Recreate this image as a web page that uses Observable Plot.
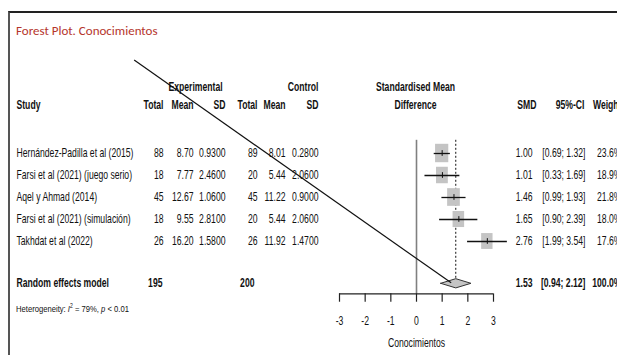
<!DOCTYPE html>
<html><head><meta charset="utf-8">
<script src="https://cdn.jsdelivr.net/npm/d3@7"></script>
<script src="https://cdn.jsdelivr.net/npm/@observablehq/plot@0.6"></script>
<style>
html,body{margin:0;padding:0;background:#fff;overflow:hidden;width:617px;height:355px}
#wrap{position:relative;width:617px;height:355px;overflow:hidden}
#frame{position:absolute;left:8px;top:11px;width:700px;height:400px;border-top:2px solid #222;border-left:2px solid #555;box-sizing:border-box}
#title{position:absolute;left:16px;top:23px;font-family:Carlito,Lato,sans-serif;font-size:13px;color:#b5352b;white-space:nowrap}
#het{position:absolute;left:16px;top:303px;font-family:"Liberation Sans",Arial,sans-serif;font-size:9.8px;color:#111;white-space:nowrap;transform:scaleX(0.78);transform-origin:0 0}
#het sup{font-size:6.5px;vertical-align:4px;line-height:0}
#chart{position:absolute;left:0;top:0}
</style></head>
<body><div id="wrap"><div id="frame"></div><div id="title"></div><div id="chart"></div><div id="het"></div></div>
<script>
// ---- data ----
const titleText = "Forest Plot. Conocimientos";
const studies = ["Hernández-Padilla et al (2015)", "Farsi et al (2021) (juego serio)", "Aqel y Ahmad (2014)", "Farsi et al (2021) (simulación)", "Takhdat et al (2022)"];
const expTotal = [88, 18, 45, 18, 26];
const expMean = [8.70, 7.77, 12.67, 9.55, 16.20];
const expSD = [0.93, 2.46, 1.06, 2.81, 1.58];
const ctlTotal = [89, 20, 45, 20, 26];
const ctlMean = [8.01, 5.44, 11.22, 5.44, 11.92];
const ctlSD = [0.28, 2.06, 0.90, 2.06, 1.47];
const smd = [1.00, 1.01, 1.46, 1.65, 2.76];
const ciLower = [0.69, 0.33, 0.99, 0.90, 1.99];
const ciUpper = [1.32, 1.69, 1.93, 2.39, 3.54];
const weight = [23.6, 18.9, 21.8, 18.0, 17.6];
const summaryLabel = "Random effects model";
const summaryExpTotal = 195;
const summaryCtlTotal = 200;
const summarySMD = 1.53;
const summaryLower = 0.94;
const summaryUpper = 2.12;
const summaryWeight = 100.0;
const hetI2 = 79;
const hetP = "< 0.01";
const xTicks = [-3, -2, -1, 0, 1, 2, 3];
const xLabel = "Conocimientos";
const headerTop = ["Experimental", "Control", "Standardised Mean"];
const headerBottom = ["Study", "Total", "Mean", "SD", "Total", "Mean", "SD", "Difference", "SMD", "95%-CI", "Weight"];
// hand-drawn annotation line (in SMD units / row units)
const annotation = [{x1: -11.0, y1: -3.25, x2: 1.35, y2: 6.88}];

// ---- layout ----
const W = 617, H = 355;
const xs = d3.scaleLinear([-3, 3], [339, 493]);
const px = p => xs.invert(p);
const FONT = "'Liberation Sans',Arial,sans-serif";
const FS = 12;
const SQUASH = 0.72;
const rowTop = -2, rowHead = -1.2, rowSum = 6.9, axisRow = 7.38, tickLabRow = 8.6, axisLabRow = 9.6, refTop = 0.4;

document.getElementById("title").textContent = titleText;
document.getElementById("het").innerHTML = `Heterogeneity: <i>I</i><sup>2</sup> = ${hetI2}%, <i>p</i> ${hetP.replace("<","&lt;")}`;

const rows = studies.map((s, i) => ({
  study: s, row: i + 1, eT: expTotal[i], eM: expMean[i], eS: expSD[i],
  cT: ctlTotal[i], cM: ctlMean[i], cS: ctlSD[i],
  smd: smd[i], lo: ciLower[i], hi: ciUpper[i], w: weight[i]
}));

const cols = [
  {p: 16, a: "start", f: d => d.study},
  {p: 163, a: "end", f: d => String(d.eT)},
  {p: 193, a: "end", f: d => d.eM.toFixed(2)},
  {p: 225, a: "end", f: d => d.eS.toFixed(4)},
  {p: 257, a: "end", f: d => String(d.cT)},
  {p: 285, a: "end", f: d => d.cM.toFixed(2)},
  {p: 318, a: "end", f: d => d.cS.toFixed(4)},
  {p: 532, a: "end", f: d => d.smd.toFixed(2)},
  {p: 585, a: "end", f: d => `[${d.lo.toFixed(2)}; ${d.hi.toFixed(2)}]`},
  {p: 621, a: "end", f: d => d.w.toFixed(1) + "%"}
];

const tableMarks = cols.map(c => Plot.text(rows, {
  x: () => px(c.p), y: "row", text: c.f, textAnchor: c.a, fontSize: FS, fill: "#111"
}));

const headPos = [
  {p: 195, a: "middle", r: rowTop}, {p: 318, a: "end", r: rowTop}, {p: 415, a: "middle", r: rowTop}
];
const headPos2 = [
  {p: 16, a: "start"}, {p: 163, a: "end"}, {p: 193, a: "end"}, {p: 225, a: "end"}, {p: 257, a: "end"},
  {p: 285, a: "end"}, {p: 318, a: "end"}, {p: 415, a: "middle"}, {p: 536, a: "end"}, {p: 584, a: "end"}, {p: 621, a: "end"}
];
const headerItems = headerTop.map((t, i) => ({t, ...headPos[i]}))
  .concat(headerBottom.map((t, i) => ({t, r: rowHead, ...headPos2[i]})));
const headerMarks = ["start", "middle", "end"].map(a => Plot.text(headerItems.filter(d => d.a === a), {
  x: d => px(d.p), y: "r", text: "t", textAnchor: a, fontSize: FS, fontWeight: "bold", fill: "#111"
}));

const sumItems = [
  {t: summaryLabel, p: 16, a: "start"},
  {t: String(summaryExpTotal), p: 162, a: "end"},
  {t: String(summaryCtlTotal), p: 254, a: "end"},
  {t: summarySMD.toFixed(2), p: 532, a: "end"},
  {t: `[${summaryLower.toFixed(2)}; ${summaryUpper.toFixed(2)}]`, p: 585, a: "end"},
  {t: summaryWeight.toFixed(1) + "%", p: 621, a: "end"}
];
const sumMarks = ["start", "end"].map(a => Plot.text(sumItems.filter(d => d.a === a), {
  x: d => px(d.p), y: () => rowSum, text: "t", textAnchor: a, fontSize: FS, fontWeight: "bold", fill: "#111"
}));

// square half sizes (px -> units)
const hw = w => (6.6 * Math.sqrt(w / 23.6)) / 25.67;
const hh = w => (9.2 * Math.sqrt(w / 23.6)) / 22;
const dh = 0.21;
const diamond = [
  {x: summaryLower, y: rowSum}, {x: summarySMD, y: rowSum - dh},
  {x: summaryUpper, y: rowSum}, {x: summarySMD, y: rowSum + dh}, {x: summaryLower, y: rowSum}
];

const chart = Plot.plot({
  width: W, height: H, margin: 0,
  style: {fontFamily: FONT, fontSize: FS + "px", background: "transparent", overflow: "visible"},
  x: {domain: [-3, 3], range: [339, 493], axis: null},
  y: {domain: [1, 5], range: [153, 241], axis: null},
  marks: [
    Plot.ruleX([0], {y1: refTop, y2: axisRow, stroke: "#808080", strokeWidth: 1.6}),
    Plot.ruleX([summarySMD], {y1: refTop, y2: rowSum - dh, stroke: "#111", strokeWidth: 1, strokeDasharray: "2,2"}),
    Plot.rect(rows, {x1: d => d.smd - hw(d.w), x2: d => d.smd + hw(d.w), y1: d => d.row - hh(d.w), y2: d => d.row + hh(d.w), fill: "#c4c4c4"}),
    Plot.ruleY(rows, {y: "row", x1: "lo", x2: "hi", stroke: "#111", strokeWidth: 1.3}),
    Plot.ruleX(rows, {x: "smd", y1: d => d.row - 0.13, y2: d => d.row + 0.13, stroke: "#111", strokeWidth: 1}),
    Plot.line(diamond, {x: "x", y: "y", fill: "#c4c4c4", stroke: "#333", strokeWidth: 1}),
    Plot.ruleY([axisRow], {x1: xTicks[0], x2: xTicks[xTicks.length - 1], stroke: "#222", strokeWidth: 1.2}),
    Plot.ruleX(xTicks, {x: d => d, y1: axisRow, y2: axisRow + 0.38, stroke: "#222", strokeWidth: 1.2}),
    Plot.text(xTicks, {x: d => d, y: () => tickLabRow, text: d => String(d), fontSize: FS, fill: "#111"}),
    Plot.text([xLabel], {x: () => 0, y: () => axisLabRow, text: d => d, fontSize: FS, fill: "#111"}),
    ...tableMarks, ...headerMarks, ...sumMarks,
    Plot.link(annotation, {x1: "x1", y1: "y1", x2: "x2", y2: "y2", stroke: "#111", strokeWidth: 1.2})
  ]
});
document.getElementById("chart").appendChild(chart);
// narrow (Arial Narrow-like) glyphs: condense every label horizontally around its anchor
chart.querySelectorAll("text").forEach(t => {
  let tr = t.getAttribute("transform");
  if (!tr) {
    const x = +(t.getAttribute("x") || 0), y = +(t.getAttribute("y") || 0);
    t.removeAttribute("x"); t.removeAttribute("y");
    tr = `translate(${x},${y})`;
  }
  t.setAttribute("transform", `${tr} scale(${SQUASH},1)`);
});
</script></body></html>
